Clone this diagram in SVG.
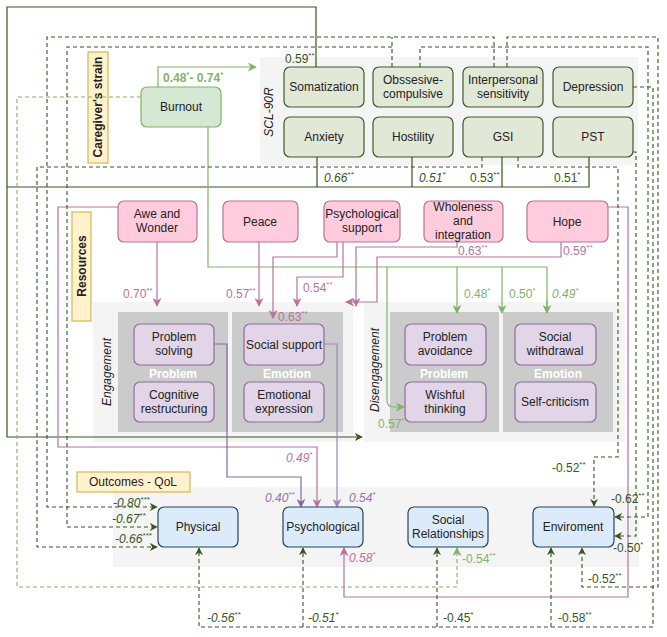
<svg xmlns="http://www.w3.org/2000/svg" width="667" height="637" viewBox="0 0 667 637">
<style>
text{font-family:"Liberation Sans",Arial,sans-serif;font-size:12px;fill:#222}
.grp{fill:#f4f4f4;stroke:none}
.sub{fill:#cbcbcb;stroke:none}
.scl rect{fill:#e2e8d6;stroke:#3c5a2c;stroke-width:1.2}
.res rect{fill:#ffccdd;stroke:#b5739d;stroke-width:1.2}
.cop rect{fill:#e1d5e7;stroke:#8f6da0;stroke-width:1.2}
.out rect{fill:#dcebf9;stroke:#23445d;stroke-width:1.2}
.yl{fill:#fff2cc;stroke:#d6b656;stroke-width:1.2}
.n text{text-anchor:middle}
.dg{fill:none;stroke:#36561f;stroke-width:1.2}
.dd{fill:none;stroke:#36561f;stroke-width:1.1;stroke-dasharray:4 3}
.gd{fill:none;stroke:#82b366;stroke-width:1.1;stroke-dasharray:4 3}
.g{fill:none;stroke:#82b366;stroke-width:1.2}
.pk{fill:none;stroke:#b5739d;stroke-width:1.2}
.pu{fill:none;stroke:#8a6a9c;stroke-width:1.2}
.pl{fill:none;stroke:#a585b5;stroke-width:1.2}
.lg{fill:#36561f}
.lgr{fill:#82b366}
.lp{fill:#b5739d}
.lpu{fill:#9673a6}
.it{font-style:italic}
.wl{fill:#fff;font-weight:bold;text-anchor:middle}
.sup{font-size:8px}
</style>
<defs>
<marker id="adg" viewBox="0 0 10 10" refX="9" refY="5" markerWidth="8" markerHeight="8" orient="auto" markerUnits="userSpaceOnUse"><path d="M0,0 L10,5 L0,10 L3,5 z" fill="#36561f"/></marker>
<marker id="ag" viewBox="0 0 10 10" refX="9" refY="5" markerWidth="9" markerHeight="9" orient="auto" markerUnits="userSpaceOnUse"><path d="M0,0 L10,5 L0,10 L3,5 z" fill="#82b366"/></marker>
<marker id="apk" viewBox="0 0 10 10" refX="9" refY="5" markerWidth="9" markerHeight="9" orient="auto" markerUnits="userSpaceOnUse"><path d="M0,0 L10,5 L0,10 L3,5 z" fill="#b5739d"/></marker>
<marker id="apu" viewBox="0 0 10 10" refX="9" refY="5" markerWidth="9" markerHeight="9" orient="auto" markerUnits="userSpaceOnUse"><path d="M0,0 L10,5 L0,10 L3,5 z" fill="#8a6a9c"/></marker>
<marker id="apl" viewBox="0 0 10 10" refX="9" refY="5" markerWidth="9" markerHeight="9" orient="auto" markerUnits="userSpaceOnUse"><path d="M0,0 L10,5 L0,10 L3,5 z" fill="#a585b5"/></marker>
</defs>
<rect width="667" height="637" fill="#fff"/>

<g id="groups">
<rect class="grp" x="260" y="57" width="378" height="108"/>
<rect class="grp" x="93" y="302" width="260" height="140"/>
<rect class="sub" x="118" y="312" width="110" height="120"/>
<rect class="sub" x="232" y="312" width="111" height="120"/>
<rect class="grp" x="364" y="302" width="261" height="140"/>
<rect class="sub" x="390" y="312" width="109" height="120"/>
<rect class="sub" x="503" y="312" width="110" height="120"/>
<rect class="grp" x="113" y="487" width="526" height="80"/>
<text class="wl" x="173" y="378">Problem</text>
<text class="wl" x="287" y="378">Emotion</text>
<text class="wl" x="444" y="378">Problem</text>
<text class="wl" x="558" y="378">Emotion</text>
<text class="it" transform="translate(273,112) rotate(-90)" text-anchor="middle">SCL-90R</text>
<text class="it" transform="translate(111,372) rotate(-90)" text-anchor="middle">Engagement</text>
<text class="it" transform="translate(379,370) rotate(-90)" text-anchor="middle">Disengagement</text>
</g>

<g id="label-caregiver"><rect class="yl" x="88" y="52" width="20" height="111"/><text transform="translate(102,107) rotate(-90)" text-anchor="middle" font-weight="bold">Caregiver's strain</text></g>
<g id="label-resources"><rect class="yl" x="72" y="212" width="19" height="109"/><text transform="translate(86,266) rotate(-90)" text-anchor="middle" font-weight="bold">Resources</text></g>
<g id="label-outcomes"><rect class="yl" x="77" y="472" width="113" height="20"/><text x="133" y="486" text-anchor="middle">Outcomes - QoL</text></g>

<g id="connectors">
<path class="dg" d="M316,67 V7 H7 V437 H362" marker-end="url(#adg)"/>
<path class="dg" d="M317,157 V187 M412,157 V187 M502,157 V187 M589,157 V187 H7"/>
<path class="g" d="M158,87 V67 H256" marker-end="url(#ag)"/>
<path class="g" d="M208,127 V267 H547 V313"/>
<path class="g" d="M457,267 V313" marker-end="url(#ag)"/>
<path class="g" d="M502,267 V313" marker-end="url(#ag)"/>
<path class="g" d="M547,300 V313" marker-end="url(#ag)"/>
<path class="g" d="M387,267 V400 Q387,407 394,407 H404" marker-end="url(#ag)"/>
<path class="gd" d="M141,97 H17 V587 H457 V548" marker-end="url(#ag)"/>
<path class="pk" d="M157,242 V306" marker-end="url(#apk)"/>
<path class="pk" d="M259,242 V306" marker-end="url(#apk)"/>
<path class="pk" d="M337,242 V257 H273 V318" marker-end="url(#apk)"/>
<path class="pk" d="M343,242 V277 H297 V306" marker-end="url(#apk)"/>
<path class="pk" d="M457,242 V247 H356 V306" marker-end="url(#apk)"/>
<path class="pk" d="M561,242 V257 H377 V302 H346" marker-end="url(#apk)"/>
<path class="pk" d="M118,207 H58 V447 H317 V507" marker-end="url(#apk)"/>
<path class="pk" d="M608,207 H628 V597 H344 V548" marker-end="url(#apk)"/>
<path class="pu" d="M214,344 H227 V477 H301 V507" marker-end="url(#apu)"/>
<path class="pl" d="M324,344 H337 V507" marker-end="url(#apl)"/>
<path class="dd" d="M494,67 V37 H47 V507 H157" marker-end="url(#adg)"/>
<path class="dd" d="M392,67 V37"/>
<path class="dd" d="M392,47 H67 V527 H157" marker-end="url(#adg)"/>
<path class="dd" d="M482,157 V167 H37 V547 H157" marker-end="url(#adg)"/>
<path class="dd" d="M518,157 V167 H618 V457 H594 V506" marker-end="url(#adg)"/>
<path class="dd" d="M420,67 V47 H648 V517 H615" marker-end="url(#adg)"/>
<path class="dd" d="M633,152 H636 V536 H615" marker-end="url(#adg)"/>
<path class="dd" d="M507,67 V37 H658 V587 H582 V548" marker-end="url(#adg)"/>
<path class="dd" d="M633,87 H653 V627 H199 V548" marker-end="url(#adg)"/>
<path class="dd" d="M303,627 V548" marker-end="url(#adg)"/>
<path class="dd" d="M437,627 V548" marker-end="url(#adg)"/>
<path class="dd" d="M551,627 V548" marker-end="url(#adg)"/>
</g>

<g id="edge-labels">
<text class="lg" x="285" y="63">0.59<tspan class="sup" dy="-5">**</tspan></text>
<text class="lg it" x="324" y="182">0.66<tspan class="sup" dy="-5">**</tspan></text>
<text class="lg it" x="419" y="182">0.51<tspan class="sup" dy="-5">*</tspan></text>
<text class="lg" x="470" y="182">0.53<tspan class="sup" dy="-5">**</tspan></text>
<text class="lg" x="554" y="182">0.51<tspan class="sup" dy="-5">*</tspan></text>
<text class="lgr" x="163" y="82" font-weight="bold">0.48<tspan class="sup" dy="-5">*</tspan><tspan dy="5">- 0.74</tspan><tspan class="sup" dy="-5">*</tspan></text>
<text class="lgr" x="464" y="298">0.48<tspan class="sup" dy="-5">*</tspan></text>
<text class="lgr" x="509" y="298">0.50<tspan class="sup" dy="-5">*</tspan></text>
<text class="lgr it" x="552" y="298">0.49<tspan class="sup" dy="-5">*</tspan></text>
<text class="lgr" x="378" y="428">0.57<tspan class="sup" dy="-5">*</tspan></text>
<text class="lgr" x="462" y="563">-0.54<tspan class="sup" dy="-5">**</tspan></text>
<text class="lp" x="123" y="298">0.70<tspan class="sup" dy="-5">**</tspan></text>
<text class="lp" x="226" y="298">0.57<tspan class="sup" dy="-5">**</tspan></text>
<text class="lp" x="278" y="321">0.63<tspan class="sup" dy="-5">**</tspan></text>
<text class="lp" x="303" y="292">0.54<tspan class="sup" dy="-5">**</tspan></text>
<text class="lp" x="458" y="255">0.63<tspan class="sup" dy="-5">**</tspan></text>
<text class="lp" x="563" y="255">0.59<tspan class="sup" dy="-5">**</tspan></text>
<text class="lp it" x="286" y="462">0.49<tspan class="sup" dy="-5">*</tspan></text>
<text class="lp it" x="349" y="562">0.58<tspan class="sup" dy="-5">*</tspan></text>
<text class="lpu it" x="265" y="502">0.40<tspan class="sup" dy="-5">**</tspan></text>
<text class="lpu it" x="349" y="502">0.54<tspan class="sup" dy="-5">*</tspan></text>
<text class="lg it" x="113" y="507">-0.80<tspan class="sup" dy="-5">***</tspan></text>
<text class="lg it" x="112" y="523">-0.67<tspan class="sup" dy="-5">**</tspan></text>
<text class="lg it" x="115" y="543">-0.66<tspan class="sup" dy="-5">***</tspan></text>
<text class="lg it" x="207" y="622">-0.56<tspan class="sup" dy="-5">**</tspan></text>
<text class="lg it" x="308" y="622">-0.51<tspan class="sup" dy="-5">*</tspan></text>
<text class="lg" x="443" y="622">-0.45<tspan class="sup" dy="-5">*</tspan></text>
<text class="lg" x="558" y="622">-0.58<tspan class="sup" dy="-5">**</tspan></text>
<text class="lg" x="588" y="583">-0.52<tspan class="sup" dy="-5">**</tspan></text>
<text class="lg" x="611" y="503">-0.62<tspan class="sup" dy="-5">**</tspan></text>
<text class="lg" x="613" y="552">-0.50<tspan class="sup" dy="-5">*</tspan></text>
<text class="lg" x="552" y="472">-0.52<tspan class="sup" dy="-5">**</tspan></text>
</g>

<g id="burnout" class="n"><rect x="141" y="87" width="80" height="40" rx="6" fill="#d5e8d4" stroke="#82b366" stroke-width="1.2"/><text x="181" y="111">Burnout</text></g>
<g id="somatization" class="n scl"><rect x="284" y="67" width="80" height="40" rx="6"/><text x="324" y="91">Somatization</text></g>
<g id="obsessive" class="n scl"><rect x="373" y="67" width="80" height="40" rx="6"/><text x="413" y="84">Obssesive-</text><text x="413" y="98">compulsive</text></g>
<g id="interpersonal" class="n scl"><rect x="463" y="67" width="80" height="40" rx="6"/><text x="503" y="84">Interpersonal</text><text x="503" y="98">sensitivity</text></g>
<g id="depression" class="n scl"><rect x="553" y="67" width="80" height="40" rx="6"/><text x="593" y="91">Depression</text></g>
<g id="anxiety" class="n scl"><rect x="284" y="117" width="80" height="40" rx="6"/><text x="324" y="141">Anxiety</text></g>
<g id="hostility" class="n scl"><rect x="373" y="117" width="80" height="40" rx="6"/><text x="413" y="141">Hostility</text></g>
<g id="gsi" class="n scl"><rect x="463" y="117" width="80" height="40" rx="6"/><text x="503" y="141">GSI</text></g>
<g id="pst" class="n scl"><rect x="553" y="117" width="80" height="40" rx="6"/><text x="593" y="141">PST</text></g>

<g id="awe" class="n res"><rect x="118" y="201" width="79" height="41" rx="6"/><text x="157" y="218">Awe and</text><text x="157" y="232">Wonder</text></g>
<g id="peace" class="n res"><rect x="223" y="201" width="75" height="41" rx="6"/><text x="260" y="226">Peace</text></g>
<g id="psysupport" class="n res"><rect x="324" y="201" width="76" height="41" rx="6"/><text x="362" y="218">Psychological</text><text x="362" y="232">support</text></g>
<g id="wholeness" class="n res"><rect x="424" y="201" width="79" height="41" rx="6"/><text x="463" y="211">Wholeness</text><text x="463" y="225">and</text><text x="463" y="239">integration</text></g>
<g id="hope" class="n res"><rect x="527" y="201" width="81" height="41" rx="6"/><text x="567" y="226">Hope</text></g>

<g id="problem-solving" class="n cop"><rect x="134" y="324" width="80" height="41" rx="6"/><text x="174" y="341">Problem</text><text x="174" y="355">solving</text></g>
<g id="cognitive" class="n cop"><rect x="134" y="382" width="80" height="40" rx="6"/><text x="174" y="399">Cognitive</text><text x="174" y="413">restructuring</text></g>
<g id="social-support" class="n cop"><rect x="244" y="324" width="80" height="41" rx="6"/><text x="284" y="349">Social support</text></g>
<g id="emotional" class="n cop"><rect x="244" y="382" width="80" height="40" rx="6"/><text x="284" y="399">Emotional</text><text x="284" y="413">expression</text></g>
<g id="avoidance" class="n cop"><rect x="405" y="324" width="81" height="41" rx="6"/><text x="445" y="341">Problem</text><text x="445" y="355">avoidance</text></g>
<g id="wishful" class="n cop"><rect x="405" y="382" width="81" height="40" rx="6"/><text x="445" y="399">Wishful</text><text x="445" y="413">thinking</text></g>
<g id="withdrawal" class="n cop"><rect x="515" y="324" width="81" height="41" rx="6"/><text x="555" y="341">Social</text><text x="555" y="355">withdrawal</text></g>
<g id="selfcrit" class="n cop"><rect x="515" y="382" width="81" height="40" rx="6"/><text x="555" y="406">Self-criticism</text></g>

<g id="physical" class="n out"><rect x="158" y="507" width="80" height="40" rx="6"/><text x="198" y="531">Physical</text></g>
<g id="psychological" class="n out"><rect x="283" y="507" width="80" height="40" rx="6"/><text x="323" y="531">Psychological</text></g>
<g id="social-rel" class="n out"><rect x="408" y="507" width="80" height="40" rx="6"/><text x="448" y="524">Social</text><text x="448" y="538">Relationships</text></g>
<g id="environment" class="n out"><rect x="533" y="507" width="81" height="40" rx="6"/><text x="573" y="531">Enviroment</text></g>
</svg>
